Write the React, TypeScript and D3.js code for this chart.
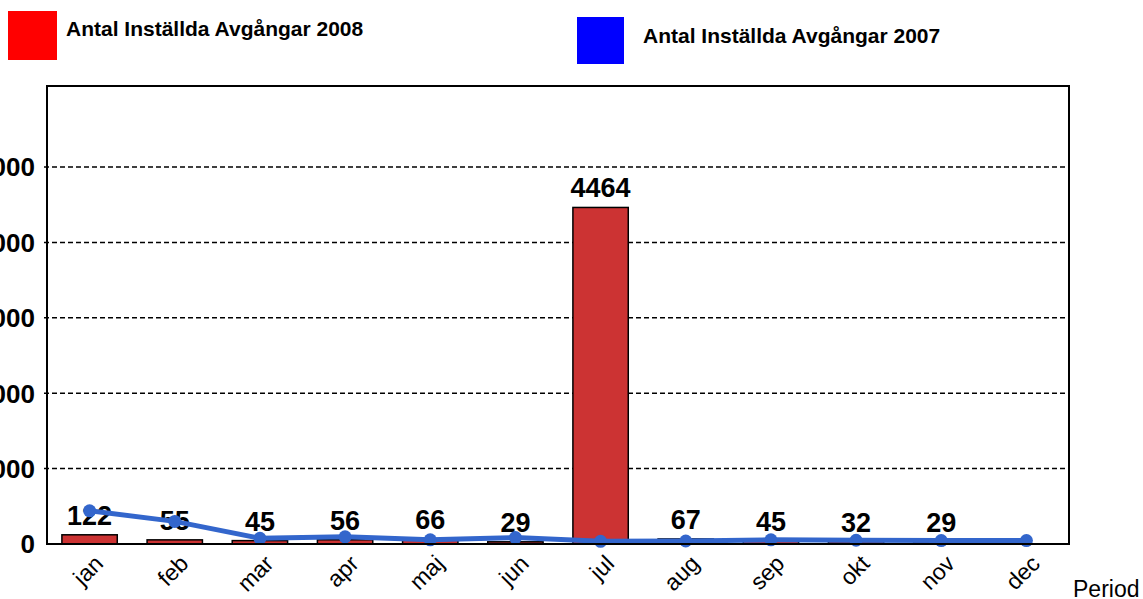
import * as d3 from 'd3';

const months = ['jan', 'feb', 'mar', 'apr', 'maj', 'jun', 'jul', 'aug', 'sep', 'okt', 'nov', 'dec'];
const values2008: (number | null)[] = [122, 55, 45, 56, 66, 29, 4464, 67, 45, 32, 29, null];
const values2007 = [440, 300, 75, 95, 55, 85, 35, 40, 55, 50, 45, 45];
const yTicks = [0, 1000, 2000, 3000, 4000, 5000];

const W = 1143;
const H = 599;
const plot = { left: 47, right: 1069, top: 86, bottom: 544 };

const App = () => {
  const x = d3
    .scaleBand<string>()
    .domain(months)
    .range([plot.left, plot.right])
    .paddingInner(0.35)
    .paddingOuter(0.175);

  const y = d3.scaleLinear().domain([0, 6075]).range([plot.bottom, plot.top]);

  const cx = (m: string) => (x(m) as number) + x.bandwidth() / 2;

  const line = d3
    .line<number>()
    .x((_, i) => cx(months[i]))
    .y(d => y(d));

  return (
    <svg
      width={W}
      height={H}
      style={{ position: 'absolute', left: 0, top: 0, fontFamily: 'Arial, "Liberation Sans", sans-serif' }}
    >
      <rect width={W} height={H} fill="#fff" />

      {/* legend */}
      <rect x={8} y={11} width={49} height={49} fill="#ff0000" />
      <text x={66} y={36} fontSize={21} fontWeight="bold">Antal Inställda Avgångar 2008</text>
      <rect x={577} y={17} width={47} height={47} fill="#0000ff" />
      <text x={643} y={43} fontSize={21} fontWeight="bold">Antal Inställda Avgångar 2007</text>

      {/* grid */}
      {yTicks.filter(t => t > 0).map(t => (
        <line
          key={t}
          x1={plot.left - 3}
          x2={plot.right - 1}
          y1={y(t)}
          y2={y(t)}
          stroke="#000"
          strokeWidth={1.5}
          strokeDasharray="5,3"
        />
      ))}

      {/* y tick labels */}
      {yTicks.map(t => (
        <text
          key={t}
          x={35}
          y={y(t)}
          dy="0.36em"
          textAnchor="end"
          fontSize={26}
          fontWeight="bold"
        >
          {t}
        </text>
      ))}

      {/* bars 2008 */}
      {values2008.map((v, i) =>
        v == null ? null : (
          <rect
            key={months[i]}
            x={x(months[i])}
            y={y(v)}
            width={x.bandwidth()}
            height={plot.bottom - y(v)}
            fill="#cc3333"
            stroke="#000"
            strokeWidth={1.5}
          />
        )
      )}

      {/* value labels */}
      {values2008.map((v, i) =>
        v == null ? null : (
          <text
            key={'l' + months[i]}
            x={cx(months[i])}
            y={y(v) - 10}
            textAnchor="middle"
            fontSize={27}
            fontWeight="bold"
          >
            {v}
          </text>
        )
      )}

      {/* line 2007 */}
      <path d={line(values2007) ?? ''} fill="none" stroke="#3366cc" strokeWidth={5} strokeLinejoin="round" />
      {values2007.map((v, i) => (
        <circle key={'c' + i} cx={cx(months[i])} cy={y(v)} r={6.5} fill="#3366cc" />
      ))}

      {/* frame */}
      <rect
        x={plot.left}
        y={plot.top}
        width={plot.right - plot.left}
        height={plot.bottom - plot.top}
        fill="none"
        stroke="#000"
        strokeWidth={2}
      />

      {/* x tick labels */}
      {months.map(m => (
        <text
          key={'x' + m}
          transform={`translate(${cx(m) + 15},${565}) rotate(-45)`}
          textAnchor="end"
          fontSize={23}
        >
          {m}
        </text>
      ))}

      <text x={1073} y={597} fontSize={23}>Period</text>
    </svg>
  );
};

export default App;
